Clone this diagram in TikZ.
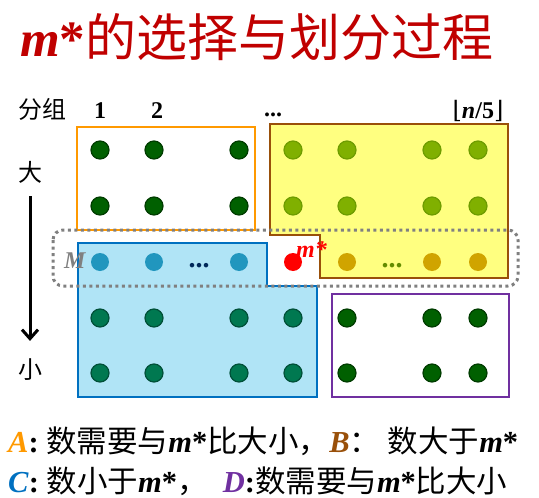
\documentclass[tikz,border=0pt]{standalone}
\usepackage{fontspec}
\setmainfont{Liberation Serif}
\newfontfamily\cjk{Noto Sans CJK SC}
\newfontfamily\brk{DejaVu Serif}
\usetikzlibrary{arrows.meta}
\definecolor{titlered}{RGB}{192,0,0}
\definecolor{darkdot}{RGB}{0,96,0}
\definecolor{darkdotline}{RGB}{0,60,0}
\definecolor{olivedot}{RGB}{128,176,0}
\definecolor{olivedotline}{RGB}{110,156,0}
\definecolor{bluedot}{RGB}{33,150,190}
\definecolor{golddot}{RGB}{208,164,0}
\definecolor{tealdot}{RGB}{0,120,80}
\definecolor{tealdotline}{RGB}{0,80,56}
\definecolor{navydots}{RGB}{0,40,90}
\definecolor{olivedots}{RGB}{100,140,0}
\definecolor{groupA}{RGB}{255,153,0}
\definecolor{groupB}{RGB}{153,80,10}
\definecolor{groupC}{RGB}{0,112,192}
\definecolor{groupD}{RGB}{112,48,160}
\definecolor{fillB}{RGB}{255,255,128}
\definecolor{fillC}{RGB}{176,228,246}
\definecolor{medianbox}{RGB}{128,128,128}
\tikzstyle{element}=[circle, minimum size=18pt, inner sep=0pt, line width=1.2pt]
\tikzstyle{dark element}=[element, fill=darkdot, draw=darkdotline]
\tikzstyle{olive element}=[element, fill=olivedot, draw=olivedotline]
\tikzstyle{blue element}=[element, fill=bluedot]
\tikzstyle{gold element}=[element, fill=golddot]
\tikzstyle{teal element}=[element, fill=tealdot, draw=tealdotline]
\tikzstyle{median element}=[element, fill=red]
\tikzstyle{region}=[line width=2pt]
\tikzstyle{side label}=[inner sep=0pt, font=\cjk\fontsize{24}{24}\selectfont]
\tikzstyle{index label}=[inner sep=0pt, font=\bfseries\fontsize{24}{24}\selectfont]
\tikzstyle{point label}=[inner sep=0pt, font=\bfseries\itshape\fontsize{24}{24}\selectfont]
\tikzstyle{ellipsis}=[inner sep=0pt, font=\bfseries\fontsize{28}{28}\selectfont]
\tikzstyle{legend}=[inner sep=0pt, anchor=base west, font=\fontsize{30.5}{30.5}\selectfont]
\tikzstyle{direction}=[line width=3pt, -{Straight Barb[length=9pt, width=16pt, line width=3pt]}]
\newcommand{\mst}{\textbf{\textit{m}*}}
\newcommand{\grp}[2]{\textcolor{#1}{\textbf{\textit{#2}}}}

\begin{document}
\begin{tikzpicture}[x=1pt, y=-1pt]
      \useasboundingbox (0, 0) rectangle (539, 498);
      \node[inner sep=0pt, anchor=base west, text=titlered, font=\fontsize{51}{51}\selectfont] (title) at (20, 56) {\mst{\cjk 的选择与划分过程}};
      \node[side label, anchor=base west] (groups) at (18, 118) {分组};
      \node[index label, anchor=base] (g1) at (100, 118) {1};
      \node[index label, anchor=base] (g2) at (157, 118) {2};
      \node[index label, anchor=base] (gdots) at (273, 116) {...};
      \node[index label, anchor=base] (glast) at (478, 118) {{\brk\mdseries ⌊}\textit{n}/5{\brk\mdseries ⌋}};
      \node[side label] (big) at (30, 172) {大};
      \node[side label] (small) at (30, 370) {小};
      \draw[direction, shorten <=13pt, shorten >=18pt] (big) to (small);
      \filldraw[region, draw=groupB, fill=fillB] (270, 124) -- (508, 124) -- (508, 278) -- (320, 278) -- (320, 235) -- (270, 235) -- cycle;
      \filldraw[region, draw=groupC, fill=fillC] (78, 243) -- (267, 243) -- (267, 286) -- (317, 286) -- (317, 397) -- (78, 397) -- cycle;
      \draw[region, draw=groupA] (77, 127) rectangle (255, 230);
      \draw[region, draw=groupD] (332, 294) rectangle (509, 397);
      \draw[medianbox, line width=3pt, dash pattern=on 3pt off 3.5pt, rounded corners=10pt] (53, 230) rectangle (518, 286);
      \foreach \y [count=\r] in {150, 206} {
        \foreach \x [count=\c] in {100, 154, 239}
          \node[dark element] (e-\r-\c) at (\x, \y) {};
        \foreach \x [count=\c from 4] in {293, 347, 432, 478}
          \node[olive element] (e-\r-\c) at (\x, \y) {};
      }
      \foreach \x [count=\c] in {100, 154, 239}
        \node[blue element] (e-3-\c) at (\x, 262) {};
      \node[median element] (mstar) at (293, 262) {};
      \foreach \x [count=\c from 5] in {347, 432, 478}
        \node[gold element] (e-3-\c) at (\x, 262) {};
      \foreach \y [count=\r from 4] in {318, 373} {
        \foreach \x [count=\c] in {100, 154, 239, 293}
          \node[teal element] (e-\r-\c) at (\x, \y) {};
        \foreach \x [count=\c from 5] in {347, 432, 478}
          \node[dark element] (e-\r-\c) at (\x, \y) {};
      }
      \node[ellipsis, text=navydots, anchor=base] (lowdots) at (199, 267) {...};
      \node[ellipsis, text=olivedots, anchor=base] (highdots) at (392, 267) {...};
      \node[point label, text=medianbox, anchor=base west] (mlabel) at (64, 268) {M};
      \node[point label, text=red, anchor=base west] (mstarlabel) at (296, 257) {m*};
      \node[legend] (legend a) at (8, 452) {\grp{groupA}{A}\textbf{:} {\cjk 数需要与}\mst{\cjk 比大小，}\grp{groupB}{B}{\cjk ：}\ {\cjk 数大于}\mst};
      \node[legend] (legend c) at (8, 492) {\grp{groupC}{C}\textbf{:} {\cjk 数小于}\mst{\cjk ，}\ \ \grp{groupD}{D}\textbf{:}{\cjk 数需要与}\mst{\cjk 比大小}};
    \end{tikzpicture}
\end{document}
